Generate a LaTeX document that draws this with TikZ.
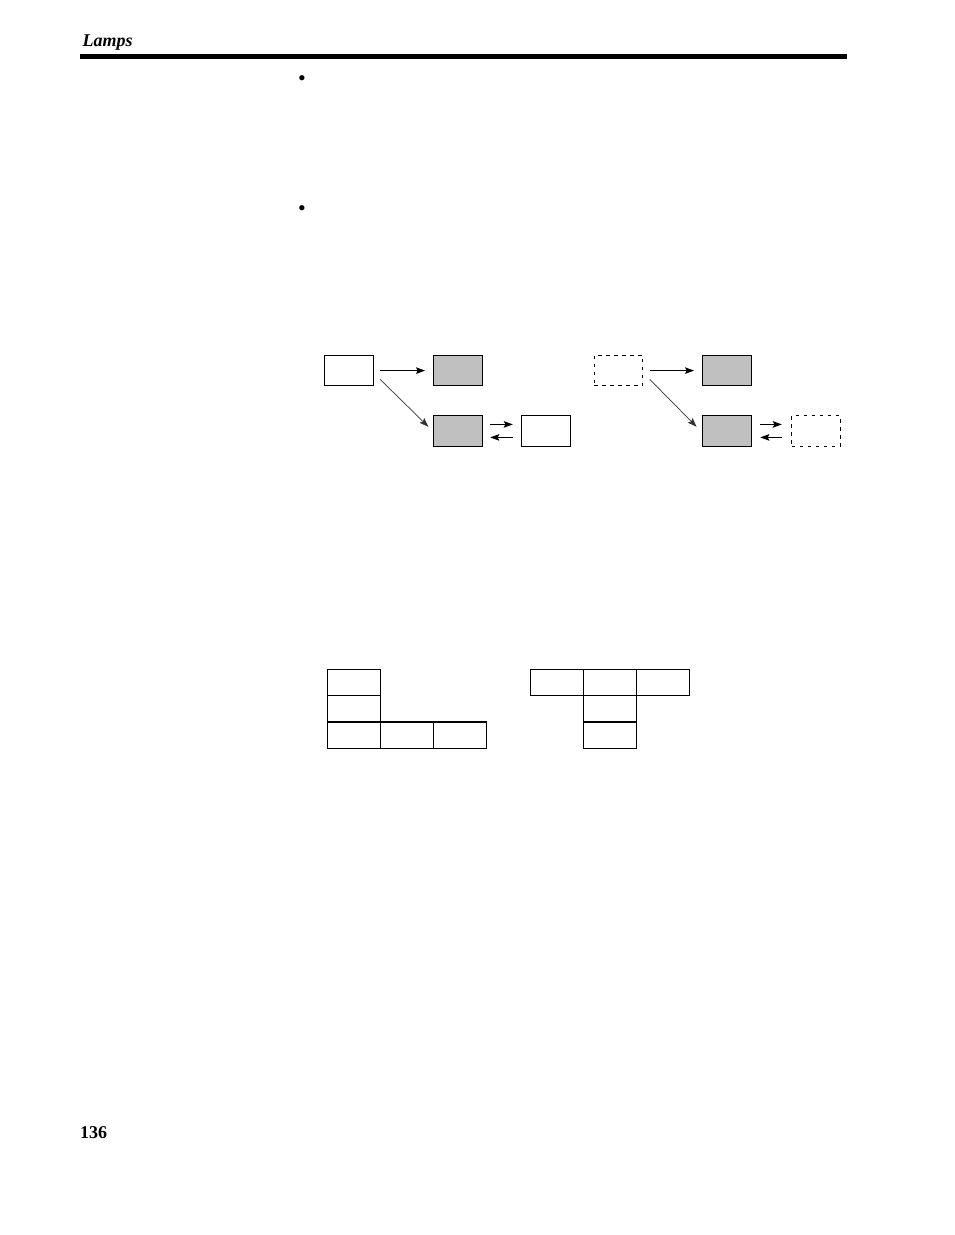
\documentclass[tikz,border=0pt]{standalone}
\usepackage{fontspec}
\setmainfont{Liberation Serif}
\usetikzlibrary{arrows.meta}
\definecolor{boxgray}{RGB}{192,192,192}
\tikzset{
  flow/.style={draw=black,line width=1pt,inner sep=0pt,minimum width=48.5pt,minimum height=30.5pt},
  shaded/.style={flow,fill=boxgray},
  dashbox/.style={flow,dash pattern=on 3.5pt off 4.5pt},
  arr/.style={line width=1.1pt,-{Stealth[length=9pt,width=6.5pt,inset=1.5pt]}},
  diag/.style={line width=0.7pt,draw=black!80,-{Stealth[length=9pt,width=6.5pt,inset=1.5pt]}},
  cell/.style={draw=black,line width=1.3pt,inner sep=0pt,minimum width=53pt,minimum height=26.3pt},
  bul/.style={inner sep=0pt,font=\fontsize{22}{22}\selectfont}
}
\begin{document}
\begin{tikzpicture}[x=1pt,y=-1pt]
\useasboundingbox (0,0) rectangle (954,1235);
% header
\node[anchor=base west,inner sep=0pt,font=\fontsize{18}{18}\selectfont\bfseries\itshape] (hdr) at (82.5,46) {Lamps};
\fill (80,54) rectangle (847,58.5);
% bullets
\node[bul] (b1) at (302,80.5) {•};
\node[bul] (b2) at (302,210.5) {•};
% diagram 1, left
\node[flow] (A) at (348.9,370.6) {};
\node[shaded] (B) at (457.8,370.6) {};
\node[shaded] (C) at (457.8,430.9) {};
\node[flow] (D) at (546,430.9) {};
\draw[arr,shorten <=6.5pt,shorten >=8pt] (A.east) -- (B.west);
\draw[diag] ([xshift=6.5pt,yshift=7pt]A.south east) -- ([xshift=-4.7pt,yshift=-11.6pt]C.north west);
\draw[arr,shorten <=7.7pt,shorten >=8.4pt] ([yshift=6.5pt]C.east) -- ([yshift=6.5pt]D.west);
\draw[arr,shorten <=8.4pt,shorten >=7.7pt] ([yshift=-6.5pt]D.west) -- ([yshift=-6.5pt]C.east);
% diagram 1, right
\node[dashbox] (E) at (618.5,370.6) {};
\node[shaded] (F) at (726.8,370.6) {};
\node[shaded] (G) at (726.8,430.9) {};
\node[dashbox] (H) at (816,430.9) {};
\draw[arr,shorten <=6.5pt,shorten >=8pt] (E.east) -- (F.west);
\draw[diag] ([xshift=6.5pt,yshift=7pt]E.south east) -- ([xshift=-5.5pt,yshift=-11.6pt]G.north west);
\draw[arr,shorten <=8.7pt,shorten >=9.4pt] ([yshift=6.5pt]G.east) -- ([yshift=6.5pt]H.west);
\draw[arr,shorten <=9.4pt,shorten >=8.7pt] ([yshift=-6.5pt]H.west) -- ([yshift=-6.5pt]G.east);
% diagram 2, left (L shape)
\node[cell] (L1) at (353.8,682.5) {};
\node[cell] (L2) at (353.8,708.8) {};
\node[cell] (L3) at (353.8,735.1) {};
\node[cell] (L4) at (406.8,735.1) {};
\node[cell] (L5) at (459.8,735.1) {};
% diagram 2, right (T shape)
\node[cell] (R1) at (556.8,682.5) {};
\node[cell] (R2) at (609.8,682.5) {};
\node[cell] (R3) at (662.8,682.5) {};
\node[cell] (R4) at (609.8,708.8) {};
\node[cell] (R5) at (609.8,735.1) {};
% page number
\node[anchor=base west,inner sep=0pt,font=\fontsize{18}{18}\selectfont\bfseries] (pg) at (80,1138) {136};
\end{tikzpicture}
\end{document}
